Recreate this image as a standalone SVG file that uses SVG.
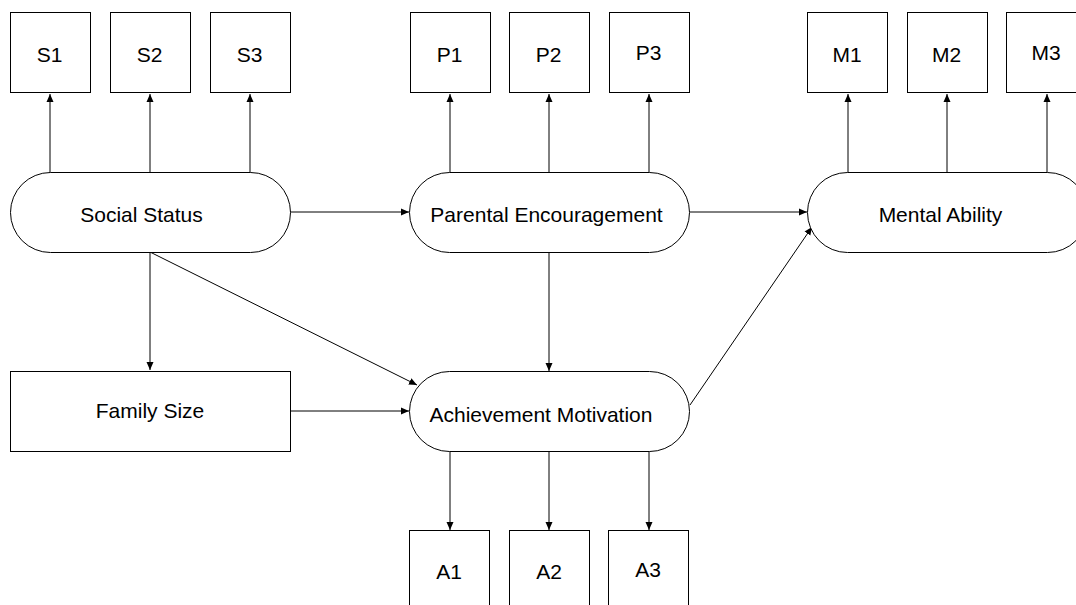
<svg xmlns="http://www.w3.org/2000/svg" width="1076" height="605" viewBox="0 0 1076 605">
<defs>
<marker id="arr" markerWidth="10" markerHeight="10" refX="8" refY="5" orient="auto" markerUnits="userSpaceOnUse">
<path d="M0,1.5 L8,5 L0,8.5 Z" fill="#000"/>
</marker>
<style>
.n{fill:#fff;stroke:#000;stroke-width:1}
.t{font-family:"Liberation Sans",Arial,sans-serif;font-size:21px;fill:#000;text-anchor:middle;dominant-baseline:central}
.c{stroke:#000;stroke-width:1;fill:none;marker-end:url(#arr)}
</style>
</defs>
<rect width="1076" height="605" fill="#fff"/>
<g id="connectors">
<line class="c" x1="50" y1="173" x2="50" y2="94"/>
<line class="c" x1="150" y1="173" x2="150" y2="94"/>
<line class="c" x1="250" y1="173" x2="250" y2="94"/>
<line class="c" x1="450" y1="173" x2="450" y2="94"/>
<line class="c" x1="549" y1="173" x2="549" y2="94"/>
<line class="c" x1="649" y1="173" x2="649" y2="94"/>
<line class="c" x1="848" y1="173" x2="848" y2="94"/>
<line class="c" x1="947" y1="173" x2="947" y2="94"/>
<line class="c" x1="1047" y1="173" x2="1047" y2="94"/>
<line class="c" x1="290" y1="212" x2="409" y2="212"/>
<line class="c" x1="690" y1="212" x2="807" y2="212"/>
<line class="c" x1="150" y1="252" x2="150" y2="370"/>
<line class="c" x1="150" y1="252" x2="417" y2="385"/>
<line class="c" x1="290" y1="411" x2="409" y2="411"/>
<line class="c" x1="549" y1="252" x2="549" y2="371"/>
<line class="c" x1="690" y1="405" x2="812" y2="227"/>
<line class="c" x1="450" y1="451" x2="450" y2="530"/>
<line class="c" x1="549" y1="451" x2="549" y2="530"/>
<line class="c" x1="649" y1="451" x2="649" y2="530"/>
</g>
<g id="S1"><rect class="n" x="10.5" y="12.5" width="80" height="80"/><text class="t" x="49.5" y="54">S1</text></g>
<g id="S2"><rect class="n" x="110.5" y="12.5" width="80" height="80"/><text class="t" x="149.5" y="54">S2</text></g>
<g id="S3"><rect class="n" x="210.5" y="12.5" width="80" height="80"/><text class="t" x="249.5" y="54">S3</text></g>
<g id="P1"><rect class="n" x="410.5" y="12.5" width="80" height="80"/><text class="t" x="449.5" y="54">P1</text></g>
<g id="P2"><rect class="n" x="509.5" y="12.5" width="80" height="80"/><text class="t" x="548.5" y="54">P2</text></g>
<g id="P3"><rect class="n" x="609.5" y="12.5" width="80" height="80"/><text class="t" x="648.5" y="52">P3</text></g>
<g id="M1"><rect class="n" x="807.5" y="12.5" width="80" height="80"/><text class="t" x="847" y="54">M1</text></g>
<g id="M2"><rect class="n" x="907.5" y="12.5" width="80" height="80"/><text class="t" x="946.5" y="54">M2</text></g>
<g id="M3"><rect class="n" x="1006.5" y="12.5" width="80" height="80"/><text class="t" x="1046" y="52">M3</text></g>
<g id="social"><rect class="n" x="10.5" y="172.5" width="280" height="80" rx="40" ry="40"/><text class="t" x="141.5" y="214.5">Social Status</text></g>
<g id="parental"><rect class="n" x="409.5" y="172.5" width="280" height="80" rx="40" ry="40"/><text class="t" x="546.5" y="214.5">Parental Encouragement</text></g>
<g id="mental"><rect class="n" x="807.5" y="172.5" width="280" height="80" rx="40" ry="40"/><text class="t" x="940.5" y="214.5">Mental Ability</text></g>
<g id="family"><rect class="n" x="10.5" y="371.5" width="280" height="80"/><text class="t" x="150" y="410">Family Size</text></g>
<g id="achievement"><rect class="n" x="409.5" y="371.5" width="280" height="80" rx="40" ry="40"/><text class="t" x="541" y="414.5">Achievement Motivation</text></g>
<g id="A1"><rect class="n" x="409.5" y="530.5" width="80" height="80"/><text class="t" x="449" y="571">A1</text></g>
<g id="A2"><rect class="n" x="509.5" y="530.5" width="80" height="80"/><text class="t" x="549" y="571">A2</text></g>
<g id="A3"><rect class="n" x="608.5" y="530.5" width="80" height="80"/><text class="t" x="648" y="569">A3</text></g>
</svg>
